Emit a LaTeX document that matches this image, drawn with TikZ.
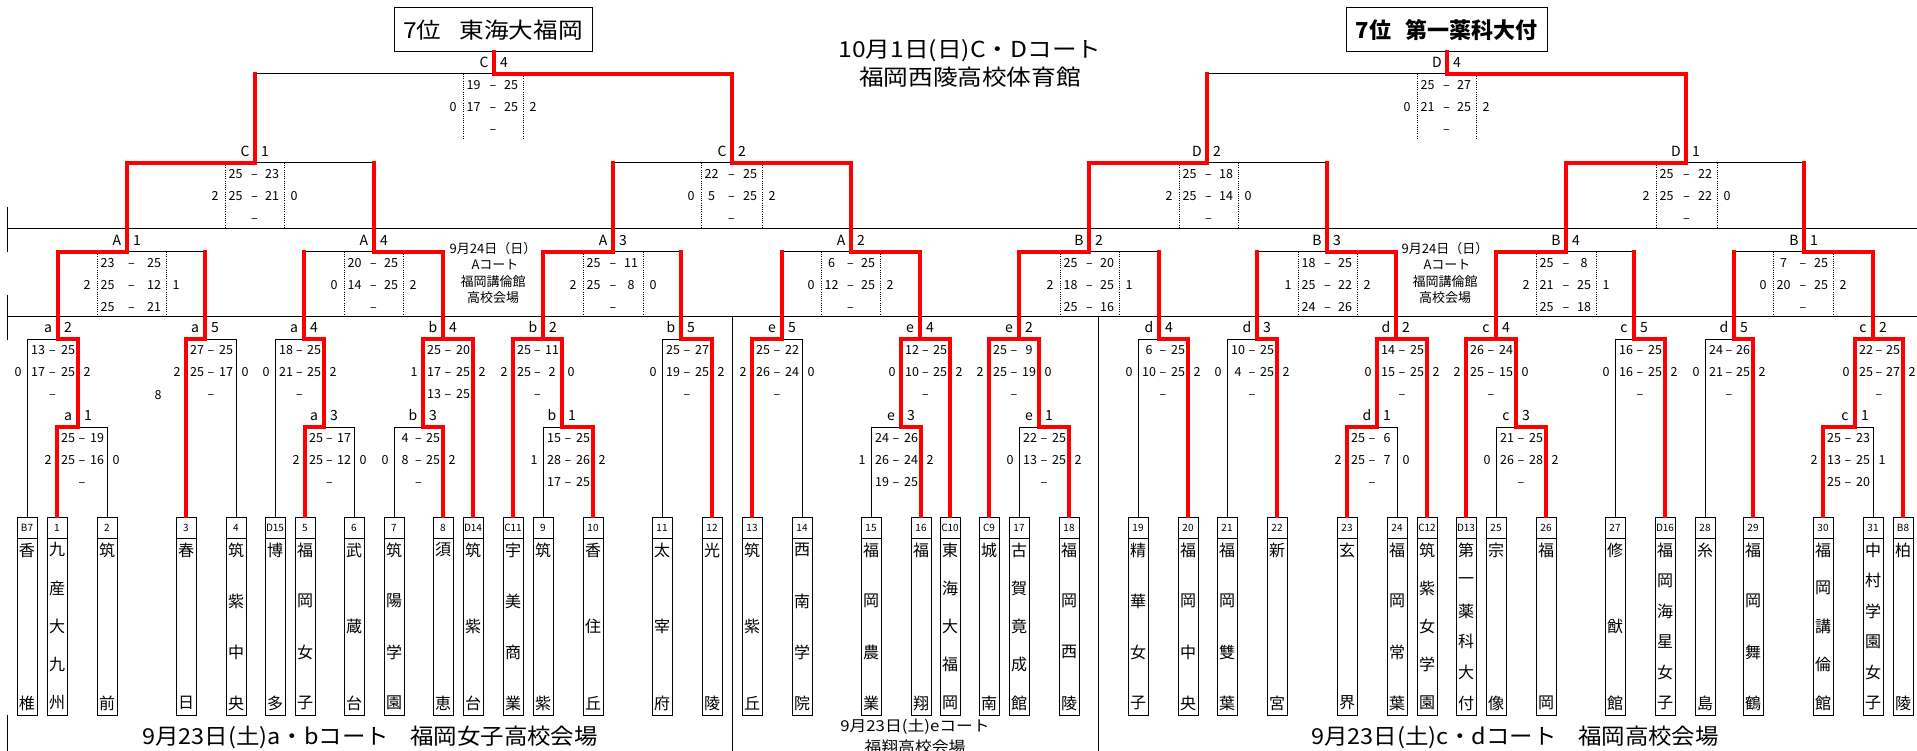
\documentclass[tikz,border=0pt]{standalone}
\usepackage{fontspec}
\setmainfont{Noto Sans CJK JP}
\definecolor{wred}{RGB}{255,0,0}
\pgfdeclarelayer{fg}
\pgfsetlayers{main,fg}
\newcounter{nd}
\newcommand\hs[2][1.12]{\scalebox{#1}[1]{#2}}
\tikzset{
  autoname/.code={\stepcounter{nd}\edef\tmpnm{q\arabic{nd}}\pgfkeysalso{name/.expanded=\tmpnm}},
  win/.style={draw=wred, line width=3.8pt, line cap=rect, line join=miter},
  lose/.style={draw=black, line width=1pt},
  dots/.style={draw=black, line width=0.8pt, dash pattern=on 0.8pt off 1.4pt},
  sc/.style={autoname, inner sep=0pt, anchor=base, font=\fontsize{12.5}{12.5}\selectfont},
  lb/.style={autoname, inner sep=0pt, anchor=base, font=\fontsize{14}{14}\selectfont},
  numbox/.style={draw, line width=1pt, minimum width=20pt, minimum height=21pt, inner sep=0pt, font=\fontsize{10}{10}\selectfont},
  namebox/.style={draw, line width=1pt, minimum width=20pt, minimum height=177pt, inner sep=0pt},
  namech/.style={inner sep=0pt, font=\fontsize{16}{16}\selectfont},
  note/.style={autoname, inner sep=0pt, font=\fontsize{13}{13}\selectfont},
  captxt/.style={autoname, inner sep=0pt},
}
% team: id, x, number, count, chars
\newcommand\team[5]{%
  \node[numbox] (n#1) at (#2,527.5) {#3};%
  \node[namebox] (b#1) at (#2,626.5) {};%
  \foreach \c [count=\i] in {#5}{%
    \node[namech] (c#1-\i) at ({#2},{550+(\i-1)*153/(#4-1)}) {\c};}%
}
\newcommand\tw[2]{\begin{pgfonlayer}{fg}\draw[win] (n#1.north) -- ++(0,{#2-517});\end{pgfonlayer}}
\newcommand\tl[2]{\draw[lose] (n#1.north) -- ++(0,{#2-517});}
% matches: L C R y parentY
\newcommand\mL[5]{\draw[lose] (#3,#4) -- (#2,#4);\begin{pgfonlayer}{fg}\draw[win] (#1,#4) -- (#2,#4) -- (#2,#5);\end{pgfonlayer}}
\newcommand\mR[5]{\draw[lose] (#1,#4) -- (#2,#4);\begin{pgfonlayer}{fg}\draw[win] (#3,#4) -- (#2,#4) -- (#2,#5);\end{pgfonlayer}}
\newcommand\mB[5]{\begin{pgfonlayer}{fg}\draw[win] (#1,#4) -- (#3,#4);\draw[win] (#2,#4) -- (#2,#5);\end{pgfonlayer}}
\newcommand\lab[4]{\node[lb] at ({#1-10},{#2-6.5}) {#3};\node[lb] at ({#1+10},{#2-6.5}) {#4};}
% first-level scores: L R y lc rc rows
\newcommand\fs[6]{%
  \pgfmathsetmacro\smid{(#1+#2)/2}%
  \foreach \k in {0,1,2}{\node[sc] at (\smid,{#3+15.5+22*\k}) {–};}%
  \foreach \pa/\pb [count=\k from 0] in {#6}{%
    \node[sc] at ({#1+11},{#3+15.5+22*\k}) {\pa};%
    \node[sc] at ({#2-10},{#3+15.5+22*\k}) {\pb};}%
  \node[sc] at ({#1-9},{#3+37.5}) {#4};%
  \node[sc] at ({#2+9},{#3+37.5}) {#5};}
% upper-level scores: dotL dotR y lc rc rows
\newcommand\as[6]{%
  \draw[dots] (#1,#3) -- (#1,{#3+65.5});%
  \draw[dots] (#2,#3) -- (#2,{#3+65.5});%
  \pgfmathsetmacro\smid{(#1+#2)/2}%
  \foreach \k in {0,1,2}{\node[sc] at (\smid,{#3+15.5+22*\k}) {–};}%
  \foreach \pa/\pb [count=\k from 0] in {#6}{%
    \node[sc] at ({#1+10.5},{#3+15.5+22*\k}) {\pa};%
    \node[sc] at ({#2-12},{#3+15.5+22*\k}) {\pb};}%
  \node[sc] at ({#1-10},{#3+37.5}) {#4};%
  \node[sc] at ({#2+10},{#3+37.5}) {#5};}
\begin{document}
\begin{tikzpicture}[x=1pt,y=-1pt]
\useasboundingbox (0,0) rectangle (1917,751);
% frame lines
\draw[lose] (7,229) -- (1917,229);
\draw[lose] (7,317) -- (1917,317);
\draw[lose] (7,207) -- (7,252);
\draw[lose] (7,295) -- (7,340);
\draw[lose] (7,715) -- (7,751);
\draw[lose] (732,317) -- (732,751);
\draw[lose] (1098,317) -- (1098,751);
% titles
\node[draw, line width=1pt, minimum width=198pt, minimum height=44pt, inner sep=0pt, font=\fontsize{22}{22}\selectfont] (champC) at (493,30) {\hs{7位\hspace{16pt}東海大福岡}};
\node[draw, line width=1pt, minimum width=201pt, minimum height=44pt, inner sep=0pt, font=\fontsize{22}{22}\selectfont\bfseries] (champD) at (1446.5,30) {7位\hspace{14pt}第一薬科大付};
\node[captxt, font=\fontsize{22}{22}\selectfont] at (970,51) {\hs{10月1日(日)C・Dコート}};
\node[captxt, font=\fontsize{22}{22}\selectfont] at (970,77) {\hs{福岡西陵高校体育館}};
\foreach \xx in {493,1445}{
  \node[note] at (\xx,249) {9月24日（日）};
  \node[note] at (\xx+2,265) {Aコート};
  \node[note] at (\xx,282) {福岡講倫館};
  \node[note] at (\xx,298) {高校会場};
}
\node[captxt, font=\fontsize{22}{22}\selectfont] at (370,737) {\hs[1.066]{9月23日(土)a・bコート\hspace{20pt}福岡女子高校会場}};
\node[captxt, font=\fontsize{22}{22}\selectfont] at (1515,737) {\hs[1.066]{9月23日(土)c・dコート\hspace{20pt}福岡高校会場}};
\node[captxt, font=\fontsize{15}{15}\selectfont] at (915,727) {\hs{9月23日(土)eコート}};
\node[captxt, font=\fontsize{15}{15}\selectfont] at (915,747) {\hs{福翔高校会場}};
% teams
\team{1}{27}{B7}{2}{香,椎}
\team{2}{57}{1}{5}{九,産,大,九,州}
\team{3}{107}{2}{2}{筑,前}
\team{4}{186}{3}{2}{春,日}
\team{5}{236}{4}{4}{筑,紫,中,央}
\team{6}{275}{D15}{2}{博,多}
\team{7}{305}{5}{4}{福,岡,女,子}
\team{8}{354}{6}{3}{武,蔵,台}
\team{9}{394}{7}{4}{筑,陽,学,園}
\team{10}{443}{8}{2}{須,恵}
\team{11}{473}{D14}{3}{筑,紫,台}
\team{12}{513}{C11}{4}{宇,美,商,業}
\team{13}{543}{9}{2}{筑,紫}
\team{14}{593}{10}{3}{香,住,丘}
\team{15}{662}{11}{3}{太,宰,府}
\team{16}{712}{12}{2}{光,陵}
\team{17}{752}{13}{3}{筑,紫,丘}
\team{18}{802}{14}{4}{西,南,学,院}
\team{19}{871}{15}{4}{福,岡,農,業}
\team{20}{921}{16}{2}{福,翔}
\team{21}{950}{C10}{5}{東,海,大,福,岡}
\team{22}{989}{C9}{2}{城,南}
\team{23}{1019}{17}{5}{古,賀,竟,成,館}
\team{24}{1069}{18}{4}{福,岡,西,陵}
\team{25}{1138}{19}{4}{精,華,女,子}
\team{26}{1188}{20}{4}{福,岡,中,央}
\team{27}{1227}{21}{4}{福,岡,雙,葉}
\team{28}{1277}{22}{2}{新,宮}
\team{29}{1347}{23}{2}{玄,界}
\team{30}{1397}{24}{4}{福,岡,常,葉}
\team{31}{1427}{C12}{5}{筑,紫,女,学,園}
\team{32}{1466}{D13}{6}{第,一,薬,科,大,付}
\team{33}{1496}{25}{2}{宗,像}
\team{34}{1546}{26}{2}{福,岡}
\team{35}{1615}{27}{3}{修,猷,館}
\team{36}{1665}{D16}{6}{福,岡,海,星,女,子}
\team{37}{1705}{28}{2}{糸,島}
\team{38}{1753}{29}{4}{福,岡,舞,鶴}
\team{39}{1823}{30}{5}{福,岡,講,倫,館}
\team{40}{1873}{31}{6}{中,村,学,園,女,子}
\team{41}{1903}{B8}{2}{柏,陵}
% team connectors
\tl{1}{339}\tw{2}{427}\tl{3}{427}\tw{4}{339}\tl{5}{339}\tl{6}{339}\tw{7}{427}\tl{8}{427}
\tl{9}{427}\tw{10}{427}\tw{11}{339}\tw{12}{339}\tl{13}{427}\tw{14}{427}\tl{15}{339}\tw{16}{339}
\tw{17}{339}\tl{18}{339}\tl{19}{427}\tw{20}{427}\tw{21}{339}\tw{22}{339}\tl{23}{427}\tw{24}{427}
\tl{25}{339}\tw{26}{339}\tl{27}{339}\tw{28}{339}\tw{29}{427}\tl{30}{427}\tw{31}{339}\tw{32}{339}
\tl{33}{427}\tw{34}{427}\tl{35}{339}\tw{36}{339}\tl{37}{339}\tw{38}{339}\tw{39}{427}\tl{40}{427}
\tw{41}{339}
% sub matches
\mL{57}{78}{107}{427}{339}
\mL{305}{324}{354}{427}{339}
\mR{394}{423}{443}{427}{339}
\mR{543}{562}{593}{427}{339}
\mR{871}{901}{921}{427}{339}
\mR{1019}{1039}{1069}{427}{339}
\mL{1347}{1377}{1397}{427}{339}
\mR{1496}{1516}{1546}{427}{339}
\mL{1823}{1855}{1873}{427}{339}
% first level
\mR{27}{58}{78}{339}{252}
\mL{186}{205}{236}{339}{252}
\mR{275}{304}{324}{339}{252}
\mB{423}{443}{473}{339}{252}
\mB{513}{543}{562}{339}{252}
\mR{662}{681}{712}{339}{252}
\mL{752}{782}{802}{339}{252}
\mB{901}{920}{950}{339}{252}
\mB{989}{1019}{1039}{339}{252}
\mR{1138}{1159}{1188}{339}{252}
\mR{1227}{1257}{1277}{339}{252}
\mB{1377}{1396}{1427}{339}{252}
\mB{1466}{1496}{1516}{339}{252}
\mR{1615}{1634}{1665}{339}{252}
\mR{1705}{1734}{1753}{339}{252}
\mB{1855}{1873}{1903}{339}{252}
% A/B level
\mL{58}{127}{205}{252}{163}
\mR{304}{374}{443}{252}{163}
\mL{543}{613}{681}{252}{163}
\mR{782}{851}{920}{252}{163}
\mL{1019}{1089}{1159}{252}{163}
\mR{1257}{1327}{1396}{252}{163}
\mL{1496}{1566}{1634}{252}{163}
\mR{1734}{1804}{1873}{252}{163}
% C/D level
\mL{127}{255}{374}{163}{74}
\mR{613}{732}{851}{163}{74}
\mL{1089}{1207}{1327}{163}{74}
\mL{1566}{1686}{1804}{163}{74}
% finals
\mR{255}{494}{732}{74}{52}
\mR{1207}{1447}{1686}{74}{52}
% labels
\lab{494}{74}{C}{4}\lab{1447}{74}{D}{4}
\lab{255}{163}{C}{1}\lab{732}{163}{C}{2}\lab{1207}{163}{D}{2}\lab{1686}{163}{D}{1}
\lab{127}{252}{A}{1}\lab{374}{252}{A}{4}\lab{613}{252}{A}{3}\lab{851}{252}{A}{2}
\lab{1089}{252}{B}{2}\lab{1327}{252}{B}{3}\lab{1566}{252}{B}{4}\lab{1804}{252}{B}{1}
\lab{58}{339}{a}{2}\lab{205}{339}{a}{5}\lab{304}{339}{a}{4}\lab{443}{339}{b}{4}
\lab{543}{339}{b}{2}\lab{681}{339}{b}{5}\lab{782}{339}{e}{5}\lab{920}{339}{e}{4}
\lab{1019}{339}{e}{2}\lab{1159}{339}{d}{4}\lab{1257}{339}{d}{3}\lab{1396}{339}{d}{2}
\lab{1496}{339}{c}{4}\lab{1634}{339}{c}{5}\lab{1734}{339}{d}{5}\lab{1873}{339}{c}{2}
\lab{78}{427}{a}{1}\lab{324}{427}{a}{3}\lab{423}{427}{b}{3}\lab{562}{427}{b}{1}
\lab{901}{427}{e}{3}\lab{1039}{427}{e}{1}\lab{1377}{427}{d}{1}\lab{1516}{427}{c}{3}
\lab{1855}{427}{c}{1}
% scores top
\as{463}{523}{74}{0}{2}{19/25,17/25}
\as{1417}{1476}{74}{0}{2}{25/27,21/25}
\as{225}{284}{163}{2}{0}{25/23,25/21}
\as{701}{762}{163}{0}{2}{22/25,5/25}
\as{1179}{1238}{163}{2}{0}{25/18,25/14}
\as{1656}{1717}{163}{2}{0}{25/22,25/22}
\as{97}{166}{252}{2}{1}{23/25,25/12,25/21}
\as{344}{403}{252}{0}{2}{20/25,14/25}
\as{583}{643}{252}{2}{0}{25/11,25/8}
\as{821}{880}{252}{0}{2}{6/25,12/25}
\as{1060}{1119}{252}{2}{1}{25/20,18/25,25/16}
\as{1298}{1357}{252}{1}{2}{18/25,25/22,24/26}
\as{1536}{1596}{252}{2}{1}{25/8,21/25,25/18}
\as{1773}{1833}{252}{0}{2}{7/25,20/25}
% first-level scores
\fs{27}{78}{339}{0}{2}{13/25,17/25}
\fs{57}{107}{427}{2}{0}{25/19,25/16}
\fs{186}{236}{339}{2}{0}{27/25,25/17}
\fs{275}{324}{339}{0}{2}{18/25,21/25}
\fs{305}{354}{427}{2}{0}{25/17,25/12}
\fs{423}{473}{339}{1}{2}{25/20,17/25,13/25}
\fs{394}{443}{427}{0}{2}{4/25,8/25}
\fs{513}{562}{339}{2}{0}{25/11,25/2}
\fs{543}{593}{427}{1}{2}{15/25,28/26,17/25}
\fs{662}{712}{339}{0}{2}{25/27,19/25}
\fs{752}{802}{339}{2}{0}{25/22,26/24}
\fs{901}{950}{339}{0}{2}{12/25,10/25}
\fs{871}{921}{427}{1}{2}{24/26,26/24,19/25}
\fs{989}{1039}{339}{2}{0}{25/9,25/19}
\fs{1019}{1069}{427}{0}{2}{22/25,13/25}
\fs{1138}{1188}{339}{0}{2}{6/25,10/25}
\fs{1227}{1277}{339}{0}{2}{10/25,4/25}
\fs{1377}{1427}{339}{0}{2}{14/25,15/25}
\fs{1347}{1397}{427}{2}{0}{25/6,25/7}
\fs{1466}{1516}{339}{2}{0}{26/24,25/15}
\fs{1496}{1546}{427}{0}{2}{21/25,26/28}
\fs{1615}{1665}{339}{0}{2}{16/25,16/25}
\fs{1705}{1753}{339}{0}{2}{24/26,21/25}
\fs{1855}{1903}{339}{0}{2}{22/25,25/27}
\fs{1823}{1873}{427}{2}{1}{25/23,13/25,25/20}
\node[sc, anchor=center] (stray) at (158,395) {8};
\end{tikzpicture}
\end{document}
